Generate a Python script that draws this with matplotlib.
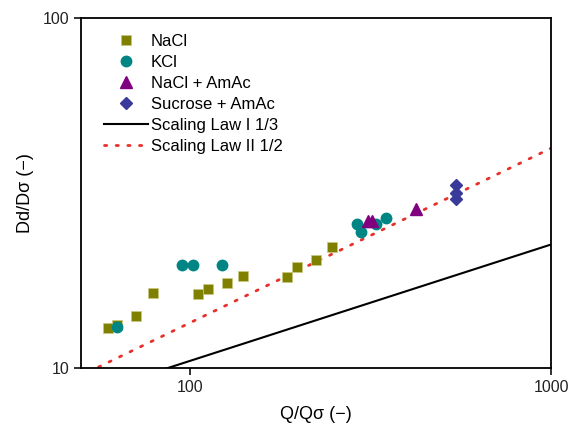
import numpy as np
import matplotlib.pyplot as plt

plt.rcParams['font.family'] = ['Liberation Sans', 'DejaVu Sans']

# NaCl
nacl_x = [59.3, 63.0, 71.1, 79.1, 105.4, 112.6, 126.6, 140.5, 186.4, 198.7, 223.4, 248.3]
nacl_y = [12.97, 13.25, 14.09, 16.33, 16.22, 16.77, 17.51, 18.26, 18.14, 19.38, 20.29, 22.11]

# KCl
kcl_x = [62.8, 95.4, 102.3, 122.9, 290.7, 298.2, 328.1, 349.2]
kcl_y = [13.1, 19.67, 19.67, 19.67, 25.73, 24.46, 25.73, 26.88]

# NaCl + AmAc
amac_x = [310.5, 319.2, 423.6]
amac_y = [26.35, 26.35, 28.46]

# Sucrose + AmAc
suc_x = [547.0, 547.0, 547.0]
suc_y = [33.3, 31.6, 30.5]

# scaling laws: y = 10 * (x / x0) ** exponent
law1_x0, law1_exp = 87.5, 1 / 3
law2_x0, law2_exp = 55.4, 1 / 2

fig = plt.figure(figsize=(5.69, 4.25), dpi=100)
ax = fig.add_axes([0.1424, 0.1348, 0.826, 0.822])

xs = np.logspace(np.log10(40), np.log10(1100), 200)
ax.plot(xs, 10 * (xs / law1_x0) ** law1_exp, color='black', lw=1.5,
        label='Scaling Law I 1/3')
ax.plot(xs, 10 * (xs / law2_x0) ** law2_exp, color='#e8302a', lw=2.0,
        linestyle=(0, (0.8, 3.4)), dash_capstyle='round',
        label='Scaling Law II 1/2')

ax.plot(nacl_x, nacl_y, 's', color='#808000', ms=7.0, mec='#c8c880', mew=0.5, label='NaCl')
ax.plot(kcl_x, kcl_y, 'o', color='#008585', ms=7.5, mec='#008585', label='KCl')
ax.plot(amac_x, amac_y, '^', color='#800080', ms=8.5, mec='#800080', label='NaCl + AmAc')
ax.plot(suc_x, suc_y, 'D', color='#3a3a9a', ms=6.3, mec='#3a3a9a', label='Sucrose + AmAc')

ax.set_xscale('log')
ax.set_yscale('log')
ax.set_xlim(50, 1000)
ax.set_ylim(10, 100)
ax.set_xticks([100, 1000])
ax.set_xticklabels(['100', '1000'])
ax.set_yticks([10, 100])
ax.set_yticklabels(['10', '100'])
ax.minorticks_off()
ax.tick_params(direction='out', length=5, width=1.3, labelsize=11.5, colors='#222222')
for s in ax.spines.values():
    s.set_linewidth(1.3)

ax.set_xlabel('Q/Q\u03c3 (\u2212)', fontsize=13, labelpad=8)
ax.set_ylabel('Dd/D\u03c3 (\u2212)', fontsize=13, labelpad=6)

h, l = ax.get_legend_handles_labels()
order = [2, 3, 4, 5, 0, 1]
ax.legend([h[i] for i in order], [l[i] for i in order], loc='upper left',
          frameon=False, fontsize=12, labelspacing=0.36, handlelength=2.6,
          handletextpad=0.2, bbox_to_anchor=(0.025, 0.99), borderaxespad=0.3)

fig.savefig('out.png', dpi=100)
